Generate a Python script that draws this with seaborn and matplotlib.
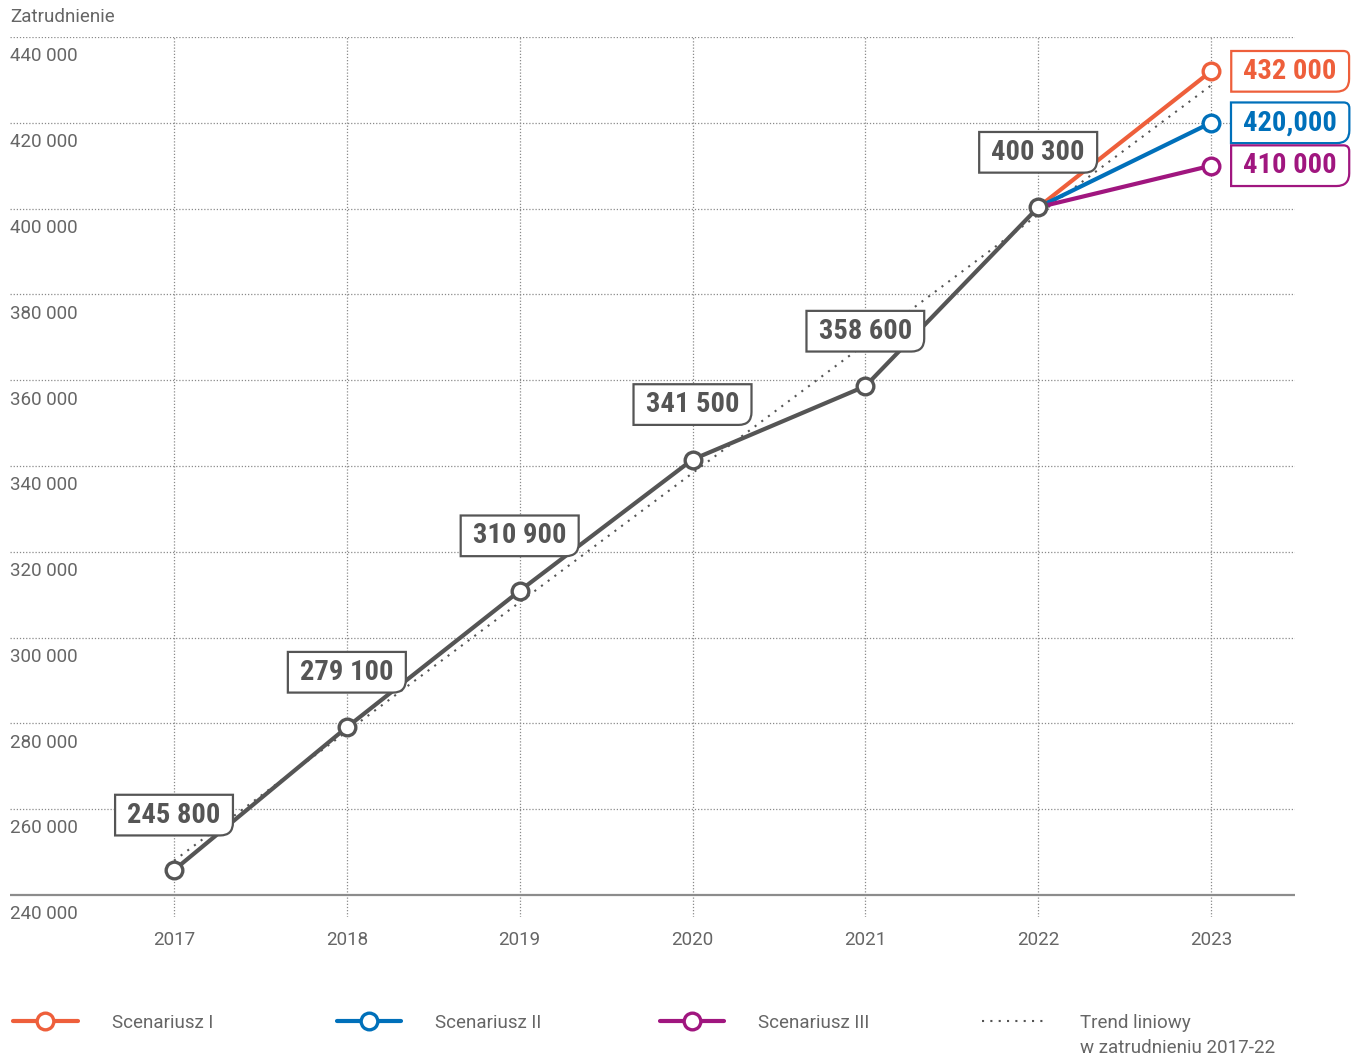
import numpy as np
import pandas as pd
import matplotlib
matplotlib.use("Agg")
import matplotlib.pyplot as plt
import matplotlib.transforms as mtransforms
from matplotlib.path import Path
from matplotlib.lines import Line2D
from matplotlib import font_manager as fm
import seaborn as sns

# ---------------- data ----------------
years = [2017, 2018, 2019, 2020, 2021, 2022]
employment = [245800, 279100, 310900, 341500, 358600, 400300]
employment_labels = ["245 800", "279 100", "310 900", "341 500", "358 600", "400 300"]

scenario_names = ["Scenariusz I", "Scenariusz II", "Scenariusz III"]
scenario_year = 2023
scenario_values = [432000, 420000, 410000]
scenario_labels = ["432 000", "420,000", "410 000"]
scenario_colors = ["#EE5F3B", "#0070BA", "#A0167F"]

trend_years = [2017, 2023]
trend_values = [248000, 428700]
trend_name = "Trend liniowy"
trend_note = "w zatrudnieniu 2017-22"

y_ticks = [240000, 260000, 280000, 300000, 320000, 340000, 360000, 380000, 400000, 420000, 440000]
y_tick_labels = ["240 000", "260 000", "280 000", "300 000", "320 000", "340 000",
                 "360 000", "380 000", "400 000", "420 000", "440 000"]
x_ticks = [2017, 2018, 2019, 2020, 2021, 2022, 2023]
y_axis_title = "Zatrudnienie"

# ---------------- style ----------------
sns.set_theme(style="white")
plt.rcParams["font.family"] = ["Roboto", "DejaVu Sans"]
available = {f.name for f in fm.fontManager.ttflist}
label_family = "Roboto"
for cand in ["Roboto Condensed", "DejaVu Sans Condensed", "Liberation Sans Narrow"]:
    if cand in available:
        label_family = cand
        break

GRAY = "#555555"
TXT = "#666666"
GRID = "#8a8a8a"

fig = plt.figure(figsize=(13.6, 10.6), dpi=100)
ax = fig.add_axes([10 / 1360, 1 - 917 / 1060, 1285 / 1360, 880 / 1060])
ax.set_xlim(2016.051, 2023.486)
ax.set_ylim(234870, 440000)

# trend
sns.lineplot(x=trend_years, y=trend_values, ax=ax, color=GRAY, lw=1.5,
             linestyle=(0, (1, 3)), zorder=2)

# scenarios
for name, val, col in zip(scenario_names, scenario_values, scenario_colors):
    sns.lineplot(x=[years[-1], scenario_year], y=[employment[-1], val], ax=ax,
                 color=col, lw=3, marker="o", markersize=12, markerfacecolor="white",
                 markeredgecolor=col, markeredgewidth=2.4, markevery=[1], zorder=3,
                 clip_on=False)

# main series
sns.lineplot(x=years, y=employment, ax=ax, color=GRAY, lw=3, marker="o", markersize=12,
             markerfacecolor="white", markeredgecolor=GRAY, markeredgewidth=2.4,
             zorder=4, clip_on=False)


def make_box(r_br, r_tr, padx, pady):
    def box(x0, y0, width, height, mutation_size):
        px = padx * mutation_size
        py = pady * mutation_size
        x0 -= px
        y0 -= py
        w = width + 2 * px
        h = height + 2 * py
        rb = r_br * mutation_size
        rt = r_tr * mutation_size
        verts = [(x0, y0), (x0 + w - rb, y0), (x0 + w, y0), (x0 + w, y0 + rb),
                 (x0 + w, y0 + h - rt), (x0 + w, y0 + h), (x0 + w - rt, y0 + h),
                 (x0, y0 + h), (x0, y0)]
        codes = [Path.MOVETO, Path.LINETO, Path.CURVE3, Path.CURVE3,
                 Path.LINETO, Path.CURVE3, Path.CURVE3, Path.LINETO, Path.CLOSEPOLY]
        return Path(verts, codes)
    return box


gray_box = make_box(0.45, 0.0, 0.43, 0.24)
color_box = make_box(0.45, 0.2, 0.43, 0.24)
LBL_SIZE = 20.5

for yr, val, lab in zip(years, employment, employment_labels):
    ax.annotate(lab, xy=(yr, val), xytext=(0, 39.6), textcoords="offset points",
                ha="center", va="center", fontsize=LBL_SIZE, fontweight="bold",
                family=label_family, color=GRAY, zorder=6,
                bbox=dict(boxstyle=gray_box, fc="white", ec=GRAY, lw=1.6))

for val, lab, col in zip(scenario_values, scenario_labels, scenario_colors):
    ax.annotate(lab, xy=(scenario_year, val), xytext=(57, 0), textcoords="offset points",
                ha="center", va="center", fontsize=LBL_SIZE, fontweight="bold",
                family=label_family, color=col, zorder=6, annotation_clip=False,
                bbox=dict(boxstyle=color_box, fc="white", ec=col, lw=1.6))

# grid & axes
for s in ax.spines.values():
    s.set_visible(False)
ax.set_yticks([])
ax.set_xticks(x_ticks)
ax.set_xticklabels([str(x) for x in x_ticks])
ax.tick_params(axis="x", length=0, pad=10, labelsize=13.5, labelcolor=TXT)
ax.set_xlabel("")
ax.set_ylabel("")
for x in x_ticks:
    ax.axvline(x, color=GRID, lw=0.9, linestyle=(0, (1, 1.5)), zorder=1)
for y in y_ticks[1:]:
    ax.axhline(y, color=GRID, lw=0.9, linestyle=(0, (1, 1.5)), zorder=1)
ax.axhline(y_ticks[0], color="#8c8c8c", lw=1.6, zorder=1)

trans = mtransforms.blended_transform_factory(ax.transAxes, ax.transData)
for y, lab in zip(y_ticks, y_tick_labels):
    ax.annotate(lab, xy=(0, y), xycoords=trans, xytext=(0, -13.9),
                textcoords="offset points", ha="left", va="center",
                fontsize=13.5, color=TXT)

fig.text(10 / 1360, 1 - 16.5 / 1060, y_axis_title, ha="left", va="center",
         fontsize=13.5, color=TXT)

# legend
handles = []
for col in scenario_colors:
    handles.append(Line2D([], [], color=col, lw=3, marker="o", markersize=12,
                          markerfacecolor="white", markeredgecolor=col,
                          markeredgewidth=2.4))
handles.append(Line2D([], [], color=GRAY, lw=1.5, linestyle=(0, (1, 3))))
labels = scenario_names + [trend_name]
x_starts = [13, 336.5, 659.5, 981.5]
for h, lab, xs in zip(handles, labels, x_starts):
    fig.legend([h], [lab], loc="upper left", bbox_to_anchor=(xs / 1360, 1 - 1014 / 1060),
               frameon=False, fontsize=13.5, labelcolor=TXT, handlelength=3.45,
               handletextpad=1.82, borderpad=0, borderaxespad=0)
fig.text(1080 / 1360, 1 - 1048 / 1060, trend_note, ha="left", va="center",
         fontsize=13.5, color=TXT)

fig.savefig("out.png", dpi=100, facecolor="white")
